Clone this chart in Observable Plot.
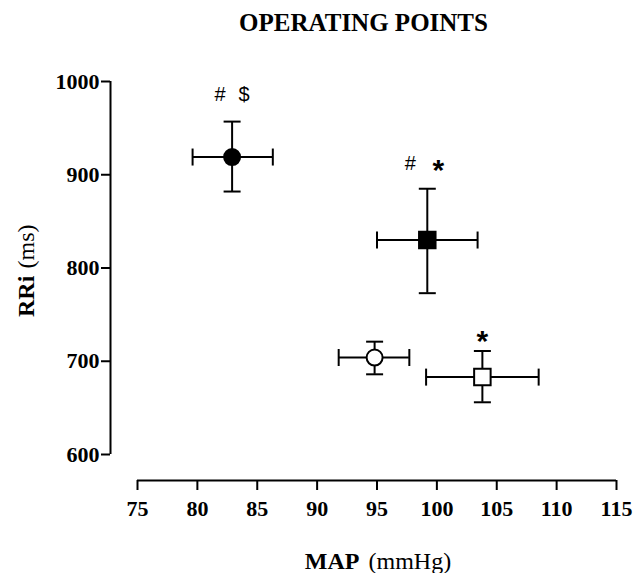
<!DOCTYPE html>
<html><head><meta charset="utf-8">
<script src="https://cdn.jsdelivr.net/npm/d3@7"></script>
<script src="https://cdn.jsdelivr.net/npm/@observablehq/plot@0.6"></script>
<style>body{margin:0;background:#fff;}</style>
</head><body><div id="chart"></div>
<script>
const groups = ["A", "B", "C", "D"];
const shape = ["circle", "square", "circle", "square"];
const fillType = ["filled", "filled", "open", "open"];
const mapMean = [82.9, 99.2, 94.8, 103.8];
const mapLow = [79.6, 95.0, 91.8, 99.1];
const mapHigh = [86.3, 103.4, 97.7, 108.5];
const rriMean = [919, 830, 704, 683];
const rriLow = [882, 773, 686, 656];
const rriHigh = [957, 885, 721, 711];
const annHash = ["#", "#", "", ""];
const annSig = ["$", "*", "", "*"];
const xTicks = [75, 80, 85, 90, 95, 100, 105, 110, 115];
const yTicks = [600, 700, 800, 900, 1000];

const rows = groups.map((g, i) => ({
  i, group: g, shape: shape[i], fillType: fillType[i],
  x: mapMean[i], xLo: mapLow[i], xHi: mapHigh[i],
  y: rriMean[i], yLo: rriLow[i], yHi: rriHigh[i],
  hash: annHash[i], sig: annSig[i]
}));

const SERIF = "'Liberation Serif', 'Times New Roman', serif";
const SANS = "'Liberation Sans', Arial, sans-serif";

const vcap = {draw(ctx, size) { const r = Math.sqrt(size / Math.PI); ctx.moveTo(0, -r); ctx.lineTo(0, r); }};
const hcap = {draw(ctx, size) { const r = Math.sqrt(size / Math.PI); ctx.moveTo(-r, 0); ctx.lineTo(r, 0); }};

const axisFont = {fontFamily: SERIF, fontSize: 22, fontWeight: "bold", tickFormat: d => String(d)};

const chart = Plot.plot({
  width: 634,
  height: 573,
  marginLeft: 110,
  marginRight: 18,
  marginTop: 81,
  marginBottom: 93,
  style: {background: "white", color: "black", overflow: "visible"},
  x: {domain: [xTicks[0], xTicks[xTicks.length - 1]], insetLeft: 27, label: null},
  y: {domain: [yTicks[0], yTicks[yTicks.length - 1]], insetBottom: 26, label: null},
  color: {domain: ["filled", "open"], range: ["black", "white"]},
  symbol: {domain: ["circle", "square"], range: ["circle", "square"]},
  marks: [
    Plot.ruleX([xTicks[0]], {y1: yTicks[0], y2: yTicks[yTicks.length - 1], dx: -27, strokeWidth: 2, stroke: "black"}),
    Plot.ruleY([yTicks[0]], {x1: xTicks[0], x2: xTicks[xTicks.length - 1], dy: 26, strokeWidth: 2, stroke: "black"}),
    Plot.axisY({ticks: yTicks, tickSize: 9, tickPadding: 2, strokeWidth: 2, label: null, ...axisFont}),
    Plot.axisX({ticks: xTicks, tickSize: 10, tickPadding: 10, strokeWidth: 2, label: null, ...axisFont}),
    // error bars
    Plot.ruleY(rows, {y: "y", x1: "xLo", x2: "xHi", strokeWidth: 2, stroke: "black"}),
    Plot.ruleX(rows, {x: "x", y1: "yLo", y2: "yHi", strokeWidth: 2, stroke: "black"}),
    Plot.dot(rows, {x: "xLo", y: "y", symbol: vcap, r: 8.5, fill: "none", stroke: "black", strokeWidth: 2}),
    Plot.dot(rows, {x: "xHi", y: "y", symbol: vcap, r: 8.5, fill: "none", stroke: "black", strokeWidth: 2}),
    Plot.dot(rows, {x: "x", y: "yLo", symbol: hcap, r: 8.5, fill: "none", stroke: "black", strokeWidth: 2}),
    Plot.dot(rows, {x: "x", y: "yHi", symbol: hcap, r: 8.5, fill: "none", stroke: "black", strokeWidth: 2}),
    // markers
    Plot.dot(rows.filter(d => d.shape === "circle"), {x: "x", y: "y", symbol: "shape", fill: "fillType", stroke: "black", strokeWidth: 2, r: 8}),
    Plot.dot(rows.filter(d => d.shape === "square"), {x: "x", y: "y", symbol: "shape", fill: "fillType", stroke: "black", strokeWidth: 2, r: 9.3}),
    // annotations
    Plot.text(rows.filter(d => d.i === 0), {x: "x", y: "yHi", text: "hash", dx: -12, dy: -27, fontFamily: SANS, fontSize: 20, fill: "black"}),
    Plot.text(rows.filter(d => d.i === 0), {x: "x", y: "yHi", text: "sig", dx: 12, dy: -27, fontFamily: SANS, fontSize: 20, fill: "black"}),
    Plot.text(rows.filter(d => d.i === 1), {x: "x", y: "yHi", text: "hash", dx: -17, dy: -25, fontFamily: SANS, fontSize: 20, fill: "black"}),
    Plot.text(rows.filter(d => d.i === 1), {x: "x", y: "yHi", text: "sig", dx: 11, dy: -18.6, fontFamily: SANS, fontSize: 30, fontWeight: "bold", fill: "black"}),
    Plot.text(rows.filter(d => d.i === 3), {x: "x", y: "yHi", text: "sig", dx: 0, dy: -9.8, fontFamily: SANS, fontSize: 30, fontWeight: "bold", fill: "black"}),
    // title
    Plot.text(["OPERATING POINTS"], {frameAnchor: "top", dy: -51, lineAnchor: "bottom", fontFamily: SERIF, fontSize: 25, fontWeight: "bold", fill: "black"}),
    // x axis title
    Plot.text(["MAP"], {frameAnchor: "bottom", dx: -4, dy: 88, lineAnchor: "bottom", textAnchor: "end", fontFamily: SERIF, fontSize: 24, fontWeight: "bold", fill: "black"}),
    Plot.text(["(mmHg)"], {frameAnchor: "bottom", dx: 5, dy: 88, lineAnchor: "bottom", textAnchor: "start", fontFamily: SERIF, fontSize: 24, fill: "black"}),
    // y axis title
    Plot.text(["RRi"], {frameAnchor: "left", dx: -77, dy: 36, rotate: -90, lineAnchor: "bottom", textAnchor: "start", fontFamily: SERIF, fontSize: 24, fontWeight: "bold", fill: "black"}),
    Plot.text(["(ms)"], {frameAnchor: "left", dx: -77, dy: -12.5, rotate: -90, lineAnchor: "bottom", textAnchor: "start", fontFamily: SERIF, fontSize: 24, fill: "black"})
  ]
});
document.getElementById("chart").appendChild(chart);
</script>
</body></html>
